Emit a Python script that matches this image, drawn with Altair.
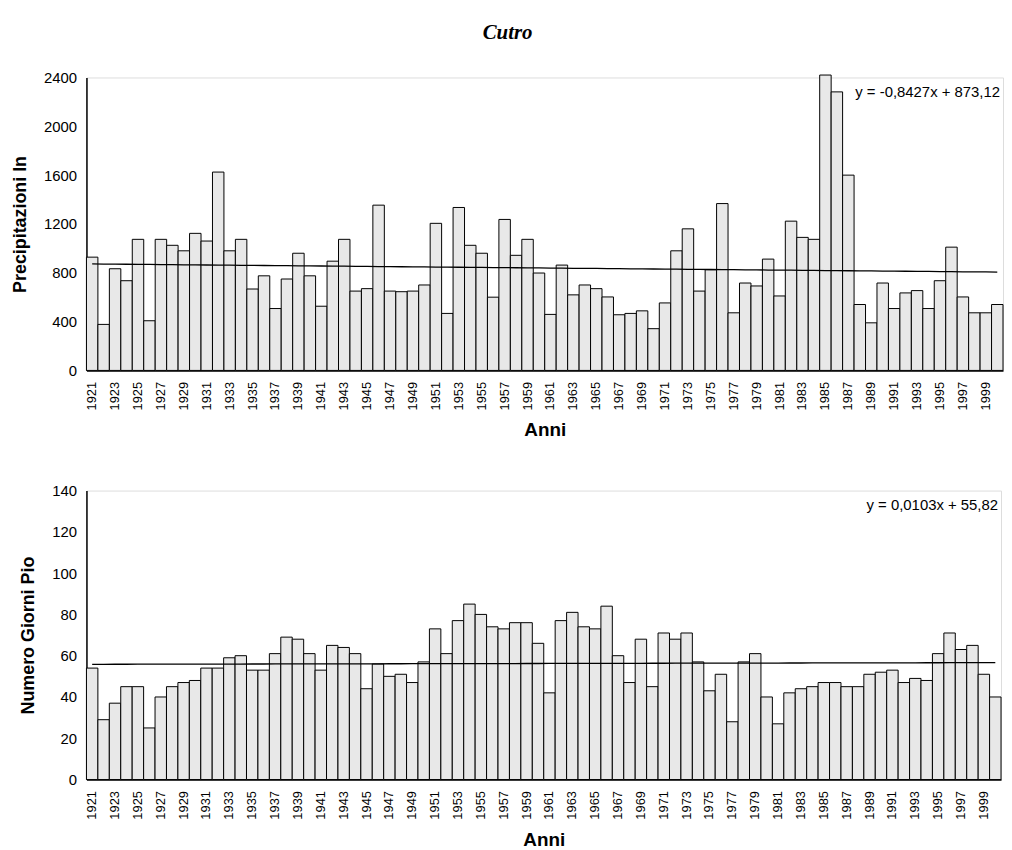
import altair as alt
import pandas as pd

years = list(range(1921, 2001))

precipitazioni = [
    928, 377, 833, 735, 1074, 407, 1074, 1025, 980, 1123,
    1060, 1625, 980, 1074, 667, 775, 507, 749, 960, 775,
    526, 895, 1074, 650, 670, 1354, 650, 645, 650, 700,
    1205, 467, 1335, 1025, 960, 600, 1237, 943, 1074, 798,
    459, 863, 619, 700, 670, 602, 456, 467, 488, 342,
    553, 980, 1160, 650, 825, 1367, 472, 716, 692, 912,
    610, 1223, 1090, 1074, 2420, 2282, 1600, 540, 390, 716,
    507, 635, 654, 507, 735, 1010, 602, 472, 472, 540,
]

giorni_piovosi = [
    54, 29, 37, 45, 45, 25, 40, 45, 47, 48,
    54, 54, 59, 60, 53, 53, 61, 69, 68, 61,
    53, 65, 64, 61, 44, 56, 50, 51, 47, 57,
    73, 61, 77, 85, 80, 74, 73, 76, 76, 66,
    42, 77, 81, 74, 73, 84, 60, 47, 68, 45,
    71, 68, 71, 57, 43, 51, 28, 57, 61, 40,
    27, 42, 44, 45, 47, 47, 45, 45, 51, 52,
    53, 47, 49, 48, 61, 71, 63, 65, 51, 40,
]

precip_slope, precip_intercept = -0.8427, 873.12
days_slope, days_intercept = 0.0103, 55.82
precip_eq = "y = -0,8427x + 873,12"
days_eq = "y = 0,0103x + 55,82"
year_ticks = years[::2]
precip_ticks = [0, 400, 800, 1200, 1600, 2000, 2400]
days_ticks = [0, 20, 40, 60, 80, 100, 120, 140]

FONT = "Liberation Sans"


def panel(values, slope, intercept, eq, ytitle, ymax, yticks, width, height):
    df = pd.DataFrame({"Anno": years, "Valore": values, "idx": list(range(1, len(years) + 1))})
    base = alt.Chart(df)
    xenc = alt.X(
        "Anno:O",
        scale=alt.Scale(paddingInner=0, paddingOuter=0),
        axis=alt.Axis(
            values=year_ticks, labelAngle=-90, title="Anni", ticks=False,
            labelPadding=11, titlePadding=11, labelFontSize=13, titleFontSize=19,
            labelFont=FONT, titleFont=FONT, titleFontWeight="bold",
            domainColor="black", domainWidth=1.5, labelColor="black", titleColor="black",
        ),
    )
    yenc = alt.Y(
        "Valore:Q",
        scale=alt.Scale(domain=[0, ymax], nice=False),
        axis=alt.Axis(
            values=yticks, format="d", title=ytitle, ticks=False, grid=False,
            labelPadding=10, titlePadding=14, labelFontSize=15, titleFontSize=18,
            labelFont=FONT, titleFont=FONT, titleFontWeight="bold",
            domainColor="black", domainWidth=1.5, labelColor="black", titleColor="black",
        ),
    )
    bars = base.mark_bar(fill="#e8e8e8", stroke="black", strokeWidth=1).encode(x=xenc, y=yenc)
    trend = base.transform_calculate(
        trend=f"{slope} * datum.idx + {intercept}"
    ).mark_line(color="black", strokeWidth=1.3).encode(
        x=alt.X("Anno:O"), y=alt.Y("trend:Q")
    )
    text = alt.Chart(pd.DataFrame({"t": [eq]})).mark_text(
        align="right", baseline="middle", fontSize=15, font=FONT, color="black"
    ).encode(text="t:N", x=alt.value(width - 3), y=alt.value(15))
    return alt.layer(bars, trend, text).properties(width=width, height=height)


top = panel(precipitazioni, precip_slope, precip_intercept, precip_eq,
            "Precipitazioni In", 2400, precip_ticks, 923, 295)
bottom = panel(giorni_piovosi, days_slope, days_intercept, days_eq,
               "Numero Giorni Pio", 140, days_ticks, 921, 291)

chart = alt.vconcat(top, bottom, spacing=42).properties(
    title=alt.TitleParams(
        "Cutro", font="Liberation Serif", fontSize=21, fontStyle="italic",
        fontWeight="bold", anchor="middle", offset=27, color="black",
    ),
    padding={"left": 3, "top": 11, "right": 0, "bottom": 0},
).configure_view(stroke="#999999", strokeWidth=1.5).configure(background="white")

chart.save("out.html", embed_options={"renderer": "svg", "actions": False})
